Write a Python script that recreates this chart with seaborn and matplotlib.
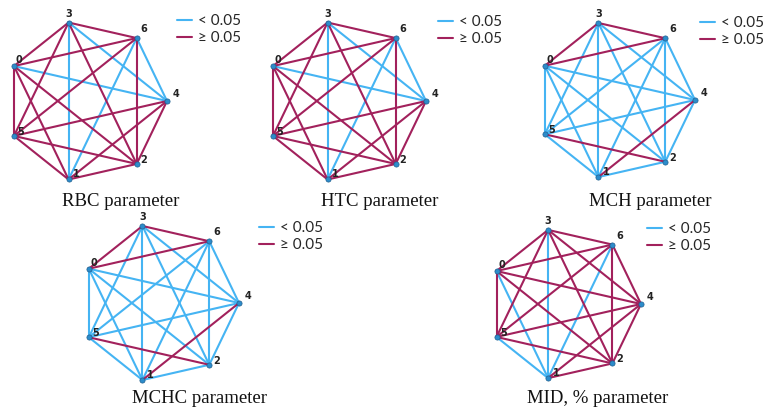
import itertools

import numpy as np
import pandas as pd
import matplotlib.pyplot as plt
import seaborn as sns

sns.set_theme(style="white")
plt.rcParams['font.family'] = ['DejaVu Sans']

# parameters and the node pairs whose p-value is < 0.05
parameters = ['RBC', 'HTC', 'MCH', 'MCHC', 'MID, %']
titles = ['RBC parameter', 'HTC parameter', 'MCH parameter',
          'MCHC parameter', 'MID, % parameter']
nodes = [0, 1, 2, 3, 4, 5, 6]
levels = ['< 0.05', '\u2265 0.05']

sig_pairs = {
    'RBC': [(1, 3), (3, 4), (1, 6), (4, 6), (0, 4)],
    'HTC': [(1, 3), (3, 4), (1, 6), (4, 6), (0, 4)],
    'MCH': [(0, 1), (0, 2), (0, 4), (0, 5), (1, 2), (1, 3), (1, 5), (1, 6),
            (2, 3), (2, 4), (2, 6), (3, 4), (3, 5), (4, 5), (4, 6), (5, 6)],
    'MCHC': [(0, 1), (0, 2), (0, 4), (0, 5), (1, 2), (1, 3), (1, 5), (1, 6),
             (2, 3), (2, 4), (2, 6), (3, 4), (3, 5), (4, 5), (4, 6), (5, 6)],
    'MID, %': [(1, 3), (1, 6), (0, 1), (1, 5)],
}

BLUE = '#45B4F3'
CRIMSON = '#A2215C'
NODE = '#2C8CCB'

# heptagon layout: node 4 on the right, counter-clockwise 4,6,3,0,5,1,2
ring = [4, 6, 3, 0, 5, 1, 2]
angle = {n: 2 * np.pi * i / 7 for i, n in enumerate(ring)}
# panel centre x, centre y, radius (pixels)
panels = [(86.5, 101, 80.5), (345.5, 101, 80.5), (616, 100, 79),
          (160, 303, 79), (565, 304, 76)]
legend_at = [(177, 14), (438, 15), (700, 16), (259, 221), (647, 222)]
title_at = [(121, 206), (380, 206), (650, 206), (200, 403), (598, 403)]
label_off = {3: (0, -9), 6: (7, -9), 4: (9, -7), 2: (7, -4),
             1: (8, -5), 5: (7, -4), 0: (5, -6)}

fig = plt.figure(figsize=(7.65, 4.09), dpi=100)

for k, par in enumerate(parameters):
    cx, cy, r = panels[k]
    pos = {n: (cx + r * np.cos(angle[n]), cy - r * np.sin(angle[n]))
           for n in nodes}

    rows = []
    for a, b in itertools.combinations(nodes, 2):
        lev = levels[0] if ((a, b) in sig_pairs[par] or
                            (b, a) in sig_pairs[par]) else levels[1]
        for n in (a, b):
            rows.append({'x': pos[n][0], 'y': pos[n][1],
                         'edge': f'{a}-{b}', 'level': lev})
    df = pd.DataFrame(rows)

    ax = fig.add_axes([0, 0, 1, 1])
    ax.patch.set_alpha(0)
    sns.lineplot(data=df, x='x', y='y', units='edge', estimator=None,
                 sort=False, hue='level', hue_order=levels,
                 palette=[BLUE, CRIMSON], linewidth=1.5, ax=ax)
    nd = pd.DataFrame({'x': [pos[n][0] for n in nodes],
                       'y': [pos[n][1] for n in nodes]})
    sns.scatterplot(data=nd, x='x', y='y', color=NODE, s=14,
                    edgecolor='#1F5F8F', linewidth=0.5, zorder=3,
                    legend=False, ax=ax)
    for n in nodes:
        dx, dy = label_off[n]
        ax.text(pos[n][0] + dx, pos[n][1] + dy, str(n), fontsize=7,
                fontweight='bold', ha='center', va='center', color='#222222')

    handles, labels = ax.get_legend_handles_labels()
    lx, ly = legend_at[k]
    ax.legend(handles, labels, loc='upper left', bbox_to_anchor=(lx, ly),
              bbox_transform=ax.transData, frameon=False, borderpad=0,
              borderaxespad=0, handlelength=1.0, handletextpad=0.35,
              labelspacing=0.2, prop={'family': 'Lato', 'size': 11})

    tx, ty = title_at[k]
    ax.text(tx, ty, titles[k], fontsize=13.5,
            family='Liberation Serif', ha='center', va='baseline',
            color='#111111')

    ax.set_xlim(0, 765)
    ax.set_ylim(409, 0)
    ax.set_axis_off()

fig.savefig('out.png', dpi=100)
